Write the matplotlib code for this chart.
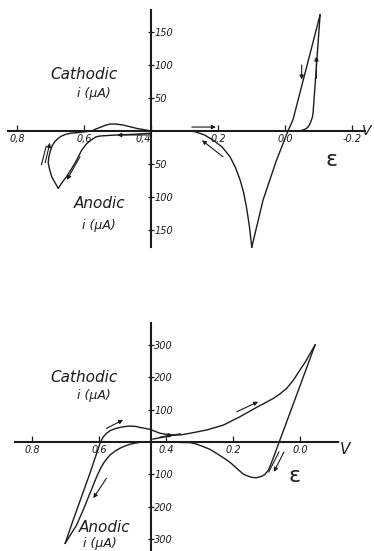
import matplotlib
matplotlib.use('Agg')
import matplotlib.pyplot as plt

INK = '#1c1c1c'

# ---- upper voltammogram (i in uA, cathodic positive) ----
top_fwd_v = [0.283, 0.20, 0.10, 0.0, -0.024, -0.045, -0.054, -0.063, -0.069, -0.074,
             -0.078, -0.082, -0.084, -0.105]
top_fwd_i = [0, 0, 0, 0, 0, 0.5, 1.5, 3.5, 6, 10, 15, 21, 27, 176]
top_rev_v = [-0.105, -0.024, -0.009, 0.025, 0.065, 0.099]
top_rev_i = [176, 17, 0, -44, -104, -176]
top_ret_v = [0.099, 0.106, 0.115, 0.124, 0.134, 0.148, 0.164, 0.188, 0.214, 0.240,
             0.269, 0.283]
top_ret_i = [-176, -145, -115, -92, -74, -55, -39, -24, -14, -6, -1, 0]
top_loop_v = [0.403, 0.453, 0.502, 0.552, 0.565, 0.577, 0.592, 0.607, 0.622, 0.637,
              0.652, 0.667, 0.677, 0.687, 0.696, 0.703, 0.707, 0.705, 0.701, 0.695,
              0.687, 0.677, 0.667, 0.655, 0.642, 0.612, 0.576, 0.565, 0.552, 0.537,
              0.522, 0.503, 0.483, 0.463, 0.443, 0.420, 0.400]
top_loop_i = [-3.5, -5, -6, -7.5, -9, -13, -19, -29, -44, -57,
              -69, -79, -87, -78, -70, -58, -48, -39, -31, -22,
              -16, -11, -7.6, -5, -3.5, -2, 0, 3, 5.5, 8.5,
              10.6, 10.5, 9, 6.5, 4, 2, 0]
top_xticks = [0.8, 0.6, 0.4, 0.2, 0.0, -0.2]
top_xlabels = ['0,8', '0,6', '0,4', '0.2', '0.0', '-0.2']
top_yticks = [150, 100, 50, -50, -100, -150]
top_ylabels = ['150', '100', '50', '50', '100', '150']
# (tail, head) of the scan direction arrows
top_arrows = [((0.412, -6), (0.501, -6)),
              ((0.612, -39), (0.651, -74)),
              ((0.716, -48), (0.702, -18)),
              ((0.278, 6), (0.206, 6)),
              ((0.185, -39), (0.248, -14)),
              ((-0.050, 100), (-0.050, 78)),
              ((-0.094, 80), (-0.094, 113))]
top_ticks_lines = [((0.727, -51), (0.713, -23))]

# ---- lower voltammogram ----
bot_start_v = [0.439, 0.358]
bot_start_i = [9, 25]
bot_up_v = [0.701, 0.677, 0.652, 0.627, 0.607, 0.597, 0.592, 0.587, 0.577, 0.567,
            0.552, 0.537, 0.520, 0.507, 0.490, 0.478, 0.463, 0.448, 0.433, 0.418,
            0.400, 0.378, 0.355, 0.328, 0.279, 0.229, 0.179, 0.129, 0.080, 0.060,
            0.040, 0.020, 0.0, -0.015, -0.030, -0.045]
bot_up_i = [-312, -240, -168, -96, -35, -4, 7, 16, 27, 35,
            41, 45, 48, 49, 48, 45, 42, 39, 33, 27,
            24, 21.5, 22, 27, 37, 52, 78, 107, 134, 148,
            165, 190, 222, 245, 272, 299]
bot_down_v = [-0.045, 0.010, 0.060, 0.080, 0.094, 0.105, 0.115, 0.130, 0.144, 0.158,
              0.169, 0.189, 0.205, 0.219, 0.249, 0.270, 0.289, 0.310, 0.328, 0.400,
              0.448, 0.478, 0.495, 0.507, 0.522, 0.537, 0.552, 0.567, 0.577, 0.587,
              0.597, 0.607, 0.627, 0.647, 0.667, 0.701]
bot_down_i = [299, 145, 6, -50, -86, -100, -106, -110, -109, -104,
              -99, -81, -66, -55, -35, -22, -14, -6, -2, 0,
              1, -1, -4, -7, -12, -19, -28, -40, -52, -66,
              -85, -107, -158, -209, -256, -312]
bot_xticks = [0.8, 0.6, 0.4, 0.2, 0.0]
bot_xlabels = ['0.8', '0.6', '0.4', '0.2', '0.0']
bot_yticks = [300, 200, 100, -100, -200, -300]
bot_ylabels = ['300', '200', '100', '100', '200', '300']
bot_arrows = [((0.578, 42), (0.528, 68)),
              ((0.578, -112), (0.617, -173)),
              ((0.418, 15), (0.379, 23)),
              ((0.189, 93), (0.125, 124)),
              ((0.048, -31), (0.078, -92))]
bot_ticks_lines = [((0.063, -31), (0.093, -92))]

W, H = 374, 551
fig = plt.figure(figsize=(W / 100, H / 100), dpi=100)
fig.patch.set_facecolor('white')


def setup(ax, v0, xbounds, ybounds, xt, xl, yt, yl):
    for s in ('left', 'top'):
        ax.spines[s].set_visible(False)
    ax.spines['right'].set_position(('data', v0))
    ax.spines['bottom'].set_position(('data', 0))
    ax.spines['right'].set_bounds(*ybounds)
    ax.spines['bottom'].set_bounds(*xbounds)
    for s in ('right', 'bottom'):
        ax.spines[s].set_linewidth(1.5)
        ax.spines[s].set_color(INK)
    ax.yaxis.set_ticks_position('right')
    ax.xaxis.set_ticks_position('bottom')
    ax.set_xticks(xt, xl)
    ax.set_yticks(yt, yl)
    ax.tick_params(axis='x', direction='in', length=4, width=0.9, pad=2,
                   labelsize=7, colors=INK)
    ax.tick_params(axis='y', direction='inout', length=5, width=0.9, pad=0,
                   labelsize=7, colors=INK)
    for lab in ax.get_xticklabels() + ax.get_yticklabels():
        lab.set_fontstyle('italic')
    ax.patch.set_visible(False)


def arrows(ax, arr, plain):
    for tail, head in arr:
        ax.annotate('', xy=head, xytext=tail,
                    arrowprops=dict(arrowstyle='-|>', lw=0.8, color=INK,
                                    mutation_scale=6, shrinkA=0, shrinkB=0))
    for a, b in plain:
        ax.plot([a[0], b[0]], [a[1], b[1]], color=INK, lw=0.8)


# upper panel
ax1 = fig.add_axes([0, 1 - 265 / H, 1, 265 / H])
ax1.set_xlim(0.851, -0.266)
ax1.set_ylim(-203, 198.5)
setup(ax1, 0.4, (-0.239, 0.827), (-176, 183), top_xticks, top_xlabels,
      top_yticks, top_ylabels)
for lab in ax1.get_xticklabels():
    if lab.get_text() == '0,4':
        lab.set_horizontalalignment('right')
for v, i in [(top_fwd_v, top_fwd_i), (top_rev_v, top_rev_i),
             (top_ret_v, top_ret_i), (top_loop_v, top_loop_i)]:
    ax1.plot(v, i, color=INK, lw=1.0)
arrows(ax1, top_arrows, top_ticks_lines)

# lower panel
ax2 = fig.add_axes([0, 0, 1, 271 / H])
ax2.set_xlim(0.8955, -0.2209)
ax2.set_ylim(-335.7, 499)
setup(ax2, 0.445, (-0.113, 0.851), (-340, 366), bot_xticks, bot_xlabels,
      bot_yticks, bot_ylabels)
for v, i in [(bot_start_v, bot_start_i), (bot_up_v, bot_up_i),
             (bot_down_v, bot_down_i)]:
    ax2.plot(v, i, color=INK, lw=1.0)
arrows(ax2, bot_arrows, bot_ticks_lines)


def label(x, y, s, size, **kw):
    fig.text(x / W, 1 - y / H, s, fontsize=size, color=INK, ha='center',
             va='center', **kw)


for y0 in (0, 302):
    label(84, 75 + y0, 'Cathodic', 11, style='italic')
    label(94, 94 + y0, 'i (µA)', 9, style='italic')
label(100, 204, 'Anodic', 11, style='italic')
label(99, 226, 'i (µA)', 9, style='italic')
label(105, 528, 'Anodic', 11, style='italic')
label(100, 543, 'i (µA)', 9, style='italic')
label(332, 160, 'ε', 16)
label(295, 476, 'ε', 16)
label(367, 131, 'V', 10, style='italic')
label(345, 449, 'V', 11, style='italic')

fig.savefig('out.png', dpi=100, facecolor='white')
